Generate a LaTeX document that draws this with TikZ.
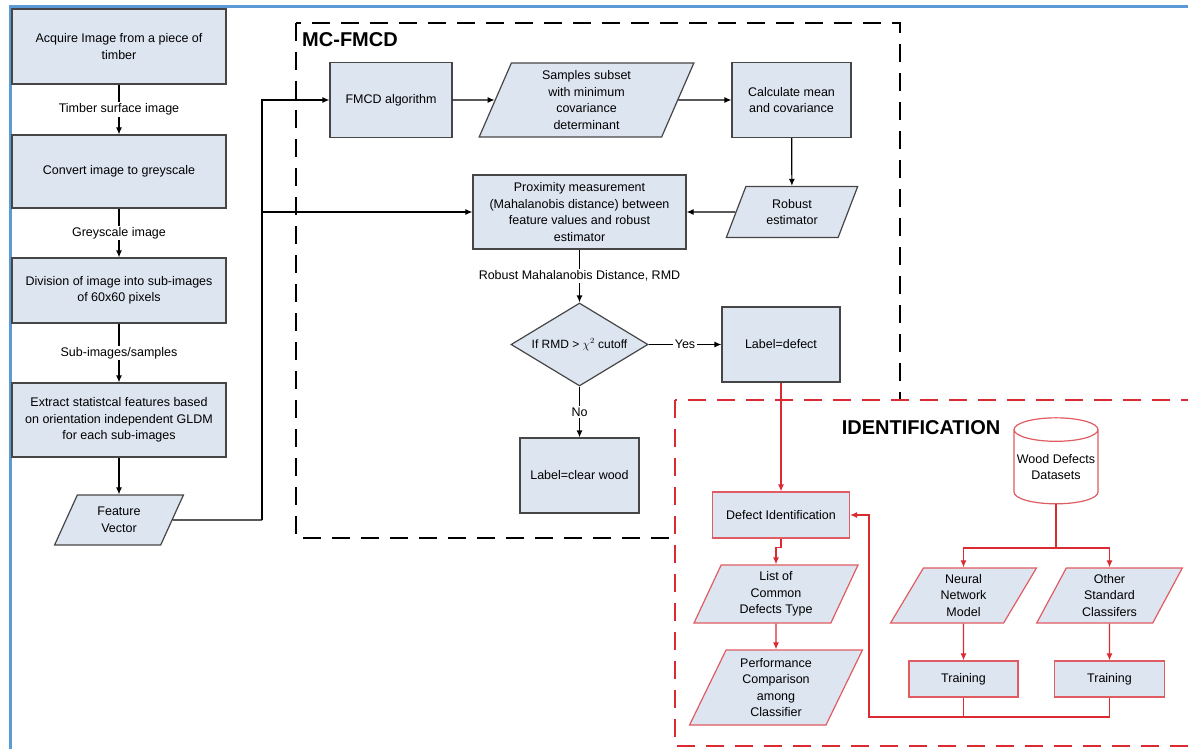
\documentclass[tikz,border=0pt]{standalone}
\usepackage{fontspec}
\setmainfont{Liberation Sans}
\usetikzlibrary{shapes.geometric,arrows.meta}

\definecolor{boxfill}{RGB}{221,229,241}
\definecolor{boxline}{RGB}{70,70,70}
\definecolor{idred}{RGB}{218,42,50}
\definecolor{idline}{RGB}{224,92,98}
\definecolor{frameblue}{RGB}{91,155,213}

\begin{document}
\begin{tikzpicture}[x=1pt, y=-1pt,
  every node/.style={font=\fontsize{12.5}{16.5}\selectfont, align=center},
  proc/.style={draw=boxline, fill=boxfill, line width=1.2pt, inner sep=2pt},
  data/.style={trapezium, trapezium stretches=true, draw=boxline, fill=boxfill,
    line width=1.2pt, inner sep=0pt},
  slant/.style={trapezium left angle=#1, trapezium right angle=180-#1},
  redproc/.style={proc, draw=idline},
  reddata/.style={data, draw=idline},
  arr/.style={line width=1.2pt, -{Latex[length=7pt,width=6pt]}},
  redarr/.style={arr, idred},
  lbl/.style={fill=white, inner sep=1.5pt},
  dashbox/.style={line width=2.5pt, dash pattern=on 18pt off 11pt}]

\useasboundingbox (0,0) rectangle (1188,749);
\clip (0,0) rectangle (1188,749);

\draw [frameblue, line width=3pt] (10,760) -- (10,7) -- (1195,7);

% MC-FMCD frame
\draw [dashbox] (296,23) rectangle (900,538);
\node [font=\fontsize{20}{24}\selectfont\bfseries] (mctitle) at (350,40) {MC-FMCD};

% left column
\node [proc, minimum width=214, minimum height=75] (acq) at (119,46.5) {Acquire Image from a piece of\\timber};
\node [proc, minimum width=214, minimum height=73] (conv) at (119,171.5) {Convert image to greyscale};
\node [proc, minimum width=214, minimum height=65] (divi) at (119,290.5) {Division of image into sub-images\\of 60x60 pixels};
\node [proc, minimum width=214, minimum height=74] (extr) at (119,420) {Extract statistcal features based\\on orientation independent GLDM\\for each sub-images};
\node [data, slant=65, minimum width=129, minimum height=50] (fv) at (119,520) {Feature\\Vector};

\draw [arr] (acq) -- node [lbl] {Timber surface image} (conv);
\draw [arr] (conv) -- node [lbl] {Greyscale image} (divi);
\draw [arr] (divi) -- node [lbl] {Sub-images/samples} (extr);
\draw [arr] (extr) -- (fv);

% MC-FMCD steps
\node [proc, minimum width=122, minimum height=75] (fmcd) at (391,100) {FMCD algorithm};
\node [data, slant=72, minimum width=215, minimum height=74] (samp) at (586.5,100) {Samples subset\\with minimum\\covariance\\determinant};
\node [proc, minimum width=119, minimum height=75] (calc) at (791.5,100) {Calculate mean\\and covariance};
\node [data, slant=67, minimum width=132, minimum height=51] (rob) at (792,212) {Robust\\estimator};
\node [proc, minimum width=213, minimum height=74] (prox) at (579.5,212) {Proximity measurement\\(Mahalanobis distance) between\\feature values and robust\\estimator};
\node [diamond, draw=boxline, fill=boxfill, line width=1.2pt, inner sep=0pt,
  minimum width=137, minimum height=83] (dec) at (579.5,344.5) {\makebox[0pt]{\fontsize{12}{14}\selectfont If RMD > $\chi^2$ cutoff}};
\node [proc, minimum width=118, minimum height=75] (ldef) at (781,344.5) {Label=defect};
\node [proc, minimum width=119, minimum height=75] (lclr) at (579.5,475.5) {Label=clear wood};

\coordinate (fvbend) at (262,520);
\draw [line width=1.2pt] (fv.east) -- (fvbend);
\draw [arr] (fvbend) |- (fmcd.west);
\draw [arr] (fvbend |- prox.west) -- (prox.west);
\draw [arr] (fmcd.east) -- (samp.west);
\draw [arr] (samp.east) -- (calc.west);
\draw [arr] (calc) -- (rob);
\draw [arr] (rob.west) -- (prox.east);
\draw [arr] (prox) -- node [lbl] {Robust Mahalanobis Distance, RMD} (dec);
\draw [arr] (dec) -- node [lbl] {Yes} (ldef);
\draw [arr] (dec) -- node [lbl] {No} (lclr);

% identification frame
\draw [dashbox, idred, fill=white] (675,400) rectangle (1200,746);
\node [font=\fontsize{20}{24}\selectfont\bfseries] (idtitle) at (921,428) {IDENTIFICATION};

\node [redproc, minimum width=137, minimum height=46] (defid) at (781,515) {Defect Identification};
\node [reddata, slant=68, minimum width=164, minimum height=58] (lst) at (776,594) {List of\\Common\\Defects Type};
\node [reddata, slant=66, minimum width=173, minimum height=75] (perf) at (776,687.5) {Performance\\Comparison\\among\\Classifier};
\node [cylinder, shape border rotate=90, aspect=0.3, draw=idline, fill=white,
  line width=1.2pt, minimum width=84, minimum height=86, inner sep=0pt] (db) at (1056,467) {Wood Defects\\Datasets};
\node [reddata, slant=66, minimum width=147, minimum height=55] (nn) at (963.5,595.5) {Neural\\Network\\Model};
\node [reddata, slant=66, minimum width=146, minimum height=55] (osc) at (1109.5,595.5) {Other\\Standard\\Classifers};
\node [redproc, minimum width=109, minimum height=36] (tr1) at (963.5,679) {Training};
\node [redproc, minimum width=110, minimum height=36] (tr2) at (1109.5,679) {Training};

\coordinate (dsplit) at (1056,548);
\coordinate (fback) at (869,717);
\draw [redarr] (ldef) -- (defid);
\draw [redarr] (defid.south) -- ++(0,9) -| (lst.north);
\draw [redarr] (lst) -- (perf);
\draw [redarr] (db.bottom) -- (dsplit) -| (nn.north);
\draw [redarr] (dsplit) -| (osc.north);
\draw [redarr] (nn) -- (tr1);
\draw [redarr] (osc) -- (tr2);
\draw [redarr] (tr1.south) |- (fback) |- (defid.east);
\draw [idred, line width=1.2pt] (tr2.south) |- (fback);

\end{tikzpicture}
\end{document}
